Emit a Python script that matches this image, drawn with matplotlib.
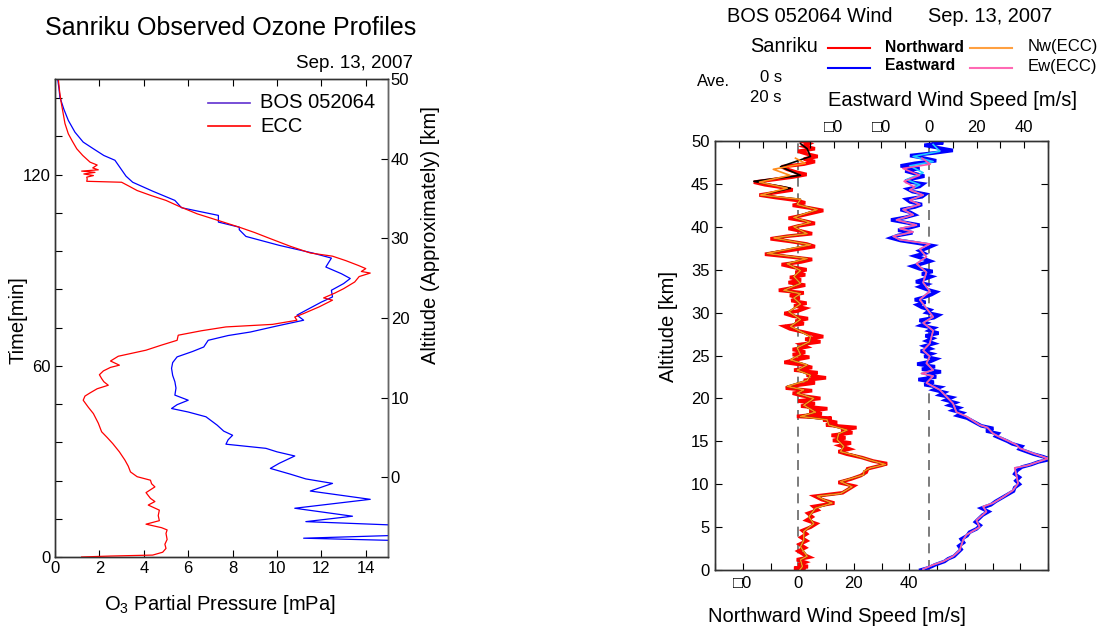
import matplotlib
matplotlib.use('Agg')
import matplotlib.pyplot as plt
from matplotlib.lines import Line2D

plt.rcParams['font.family'] = ['Liberation Sans', 'DejaVu Sans']
plt.rcParams['mathtext.fontset'] = 'custom'
plt.rcParams['mathtext.rm'] = 'Liberation Sans'
plt.rcParams['mathtext.default'] = 'regular'

# ---------------- Left panel data: ozone partial pressure vs time ----------------
bos_time = [3.5, 5.9, 8.2, 11.1, 12.8, 15.3, 18.1, 20.7, 23.1, 24.5, 26.0, 27.8, 29.4, 31.7, 33.0,
            34.1, 35.4, 36.8, 38.2, 39.5, 41.4, 44.0, 45.5, 46.6, 47.8, 49.2, 50.8, 53.0, 55.0,
            57.0, 59.2, 61.0, 62.8, 64.5, 65.9, 68.0, 69.5, 70.6, 72.5, 74.3, 75.9, 77.4, 80.0,
            81.6, 83.7, 85.8, 87.4, 88.9, 91.0, 93.8, 95.4, 97.8, 100.6, 102.7, 103.5, 105.1,
            107.2, 109.6, 111.9, 114.8, 117.6, 119.5, 121.5, 124.5, 126.0, 128.1, 130.2, 133.3,
            137.0, 140.5, 144.3, 147.0, 150.0]
bos_o3 = [25.0, 11.2, 22.0, 11.3, 13.4, 10.8, 14.2, 11.5, 12.5, 11.3, 10.6, 9.7, 10.1, 10.8, 10.0,
          9.5, 7.7, 7.8, 8.0, 7.6, 7.3, 6.8, 6.0, 5.25, 5.5, 6.0, 5.4, 5.45, 5.4,
          5.3, 5.25, 5.3, 5.5, 6.2, 6.7, 6.9, 7.8, 8.8, 10.0, 11.2, 10.9, 11.3, 12.0,
          12.5, 12.45, 13.0, 13.3, 12.9, 12.2, 12.45, 11.6, 10.1, 8.6, 8.3, 8.3, 7.36,
          7.36, 5.7, 5.4, 4.4, 3.5, 3.2, 3.0, 2.7, 2.2, 1.73, 1.27, 0.9,
          0.6, 0.4, 0.22, 0.18, 0.12]

ecc_time = [0.0, 0.3, 0.6, 1.5, 2.7, 4.0, 5.5, 7.4, 8.5, 9.2, 10.3, 11.4, 13.0, 14.7, 16.3, 17.4,
            18.4, 20.2, 22.0, 23.0, 24.1, 25.2, 26.7, 28.5, 30.4, 33.0, 35.6, 37.5, 39.3, 42.0,
            45.0, 47.0, 49.2, 50.5, 51.5, 52.8, 53.9, 55.0, 56.0, 57.2, 58.4, 59.5, 60.2, 61.5,
            63.0, 64.9, 66.5, 68.0, 69.6, 71.0, 72.2, 73.0, 74.3, 75.3, 76.4, 78.5, 80.6, 81.3,
            82.8, 84.2, 86.3, 88.0, 89.1, 89.6, 90.5, 91.5, 93.0, 94.4, 95.4, 97.5, 99.9, 101.8,
            103.5, 105.5, 107.7, 110.0, 111.9, 113.5, 115.0, 116.5, 117.6, 117.9, 118.6, 119.2,
            119.7, 120.2, 120.7, 121.1, 121.5, 122.1, 123.0, 123.9, 126.0, 128.1, 130.5, 132.8,
            136.0, 139.1, 143.0, 146.5, 150.0]
ecc_o3 = [1.2, 2.5, 4.4, 4.85, 5.0, 4.95, 5.05, 5.0, 5.05, 4.8, 4.1, 4.7, 4.65, 4.7, 4.2, 4.5,
          4.3, 4.1, 4.5, 4.35, 4.3, 3.7, 3.4, 3.3, 3.15, 2.9, 2.6, 2.35, 2.1, 1.95,
          1.73, 1.5, 1.27, 1.35, 1.58, 1.9, 2.4, 2.2, 2.1, 2.0, 2.18, 2.5, 2.9, 2.5,
          2.85, 4.1, 4.8, 5.5, 5.55, 6.6, 7.7, 9.8, 10.9, 10.8, 11.2, 11.9, 12.5, 12.1,
          12.6, 13.0, 13.5, 13.7, 14.2, 13.8, 14.0, 13.66, 13.1, 12.5, 11.5, 10.6, 9.7, 9.0,
          8.3, 7.4, 6.4, 5.6, 5.0, 4.3, 3.7, 3.3, 3.0, 1.43, 1.45, 1.43,
          1.73, 1.3, 1.8, 1.2, 1.95, 1.7, 1.9, 1.58, 1.25, 0.98, 0.78, 0.6,
          0.45, 0.37, 0.27, 0.2, 0.15]

o3_xticks = [0, 2, 4, 6, 8, 10, 12, 14]
time_ticks = [0, 12, 24, 36, 48, 60, 72, 84, 96, 108, 120, 132, 144]
time_labels = ['0', '', '', '', '', '60', '', '', '', '', '120', '', '']
alt_ticks_left = [0, 10, 20, 30, 40, 50]

# ---------------- Right panel data: wind profiles vs altitude ----------------
prof_north_alt = [0.0, 0.4, 1.2, 1.6, 2.7, 3.5, 4.5, 5.4, 6.2, 7.2, 7.8, 8.2, 8.6, 8.9, 9.7, 10.3,
                  10.7, 11.1, 11.5, 11.9, 12.3, 12.8, 13.4, 13.8, 14.4, 15.2, 15.9, 16.3, 16.9,
                  17.5, 17.9, 18.4, 19.2, 20.0, 20.6, 21.0, 21.4, 22.1, 22.7, 23.3, 23.9, 24.5,
                  25.1, 25.9, 26.6, 27.2, 28.4, 29.2, 30.1, 31.0, 31.7, 32.2, 32.6, 33.4, 34.2,
                  34.9, 35.7, 36.3, 36.9, 37.9, 38.7, 39.2, 40.0, 40.5, 41.1, 42.0, 42.6, 43.2,
                  43.7, 44.5, 45.3, 46.0, 47.0, 48.2, 49.1, 49.7]
prof_north = [0.5, 1.5, 0.8, 3.2, 0.8, 2.0, 2.0, 5.6, 3.8, 6.2, 12.2, 9.2, 6.8, 15.2, 19.4, 15.2,
              19.4, 23.6, 23.6, 26.0, 31.4, 26.0, 20.0, 15.2, 16.4, 14.0, 14.6, 17.6, 11.0,
              10.4, 0.8, 6.2, 2.0, 5.6, -0.4, 2.0, -4.0, 3.2, 4.4, -0.4, 3.2, -2.8,
              0.8, -0.4, 4.0, 4.4, -2.8, 0.8, -3.4, 0.8, -1.6, 0.8, -5.2, 0.8, -1.6,
              0.8, -4.0, 3.2, -11.2, 4.4, -8.8, 3.2, -1.6, 4.4, -1.6, 6.8, -0.4, 0.8,
              -13.6, -2.8, -16.0, 0.8, -6.4, 4.4, 3.2, 0.8]
# Nw(ECC) above 44 km (follows the profile below)
ecc_north_top_alt = [44.5, 45.2, 46.0, 46.7, 47.4, 48.0]
ecc_north_top = [-4.0, -14.0, -3.0, -9.0, 2.5, -1.0]

raw_north_alt = [0.0, 0.2, 0.4, 0.6, 0.9, 1.2, 1.5, 1.8, 2.2, 2.6, 3.0, 3.4, 3.8, 4.2, 4.6, 5.0, 5.4,
                 5.8, 6.2, 6.6, 7.0, 7.4, 7.8, 8.2, 8.6, 9.0, 9.4, 9.8, 10.2, 10.6, 11.0, 11.4, 11.8,
                 12.2, 12.4, 12.7, 13.1, 13.5, 13.8, 14.1, 14.5, 14.8, 15.1, 15.4, 15.7, 16.0, 16.3,
                 16.6, 16.9, 17.2, 17.5, 17.7, 17.9, 18.2, 18.5, 18.8, 19.1, 19.4, 19.7, 20.0, 20.3,
                 20.6, 20.9, 21.2, 21.5, 21.8, 22.1, 22.4, 22.7, 23.0, 23.3, 23.6, 23.9, 24.2, 24.5,
                 24.8, 25.1, 25.4, 25.7, 26.0, 26.3, 26.6, 26.9, 27.2, 27.5, 27.8, 28.1, 28.4, 28.7,
                 29.0, 29.3, 29.6, 29.9, 30.2, 30.5, 30.8, 31.1, 31.4, 31.7, 32.0, 32.3, 32.6, 32.9,
                 33.2, 33.5, 33.8, 34.1, 34.4, 34.7, 35.0, 35.3, 35.6, 35.9, 36.2, 36.5, 36.8, 37.1,
                 37.4, 37.7, 38.0, 38.3, 38.6, 38.9, 39.2, 39.5, 39.8, 40.1, 40.4, 40.7, 41.0, 41.3,
                 41.6, 41.9, 42.2, 42.5, 42.8, 43.1, 43.4, 43.7, 44.0, 44.3, 44.6, 44.9, 45.2, 45.5,
                 45.8, 46.1, 46.4, 46.7, 47.0, 47.3, 47.6, 47.9, 48.2, 48.5, 48.8, 49.1, 49.4, 49.7,
                 50.0]
raw_north = [2.0, -1.5, 3.5, 0.0, 2.5, -0.5, 4.0, 2.0, 0.0, 2.5, 0.5, 3.0, 1.0, 3.0, 1.5, 4.5, 6.5,
             3.0, 5.0, 3.5, 7.0, 5.5, 13.0, 8.5, 6.0, 16.0, 18.0, 20.0, 14.5, 19.0, 22.5, 24.5, 25.0,
             30.0, 32.0, 27.0, 23.0, 17.5, 14.5, 18.5, 15.0, 19.0, 12.5, 17.0, 12.0, 19.5, 15.5,
             21.0, 10.0, 14.0, 9.0, 12.0, -0.5, 8.5, 4.0, 10.5, 1.0, 6.0, 0.0, 8.0, 1.5,
             -2.0, 5.0, -4.5, -1.0, 6.0, 2.0, 10.0, 3.0, 7.0, -1.5, 5.0, 1.5, -5.0, -1.0,
             4.0, -2.0, 2.5, -2.0, 3.0, 1.0, 8.0, 2.5, 9.0, 5.0, 1.0, -3.0, -5.0, 2.0,
             -1.0, 3.5, -2.0, -5.0, 0.0, 2.5, -1.5, 3.0, -2.5, 0.5, -3.0, 2.0, -7.0, -2.0,
             2.5, -3.5, 1.0, -3.0, 2.5, -1.0, 3.0, -2.0, -6.0, 1.0, 5.0, -3.0, -12.0, -6.0,
             0.0, 6.0, 3.0, -3.0, -10.0, -4.0, 5.0, 1.0, -3.5, 0.0, 6.0, 2.0, -3.5, 1.0,
             5.0, 9.0, 4.0, -2.0, 2.5, -1.0, -8.0, -14.0, -8.0, -2.0, -6.0, -12.0, -16.0, -9.0,
             -2.0, 3.0, -1.0, -4.0, -6.0, 2.0, 6.0, 2.0, 7.0, 3.0, 0.0, 6.0, 2.0, 4.0,
             1.0]

prof_east_alt = [0.1, 0.6, 1.0, 1.6, 2.3, 3.5, 4.1, 5.0, 5.8, 6.8, 7.4, 7.8, 8.5, 9.3, 10.1, 11.1,
                 11.9, 12.2, 13.0, 13.6, 14.2, 14.6, 15.5, 15.9, 16.6, 16.9, 17.9, 18.4, 19.4, 20.2,
                 21.0, 21.4, 21.8, 22.6, 22.9, 23.3, 24.1, 24.9, 25.6, 26.4, 27.9, 28.8, 29.5, 30.5,
                 31.5, 32.5, 33.5, 34.7, 35.7, 36.5, 37.4, 38.0, 38.5, 38.9, 39.4, 39.8, 40.2, 40.8,
                 41.4, 42.0, 42.6, 43.1, 43.7, 44.3, 44.9, 45.5, 46.3, 47.1, 47.6, 48.2, 48.8, 49.6]
prof_east = [-2.5, 1.7, 5.9, 10.1, 12.9, 14.3, 15.7, 21.3, 19.9, 24.1, 22.7, 26.9, 31.1, 35.3, 37.4, 36.7,
             36.0, 41.6, 50.0, 43.7, 38.1, 36.7, 29.7, 26.9, 24.5, 21.3, 15.7, 11.5, 10.1, 7.3,
             4.5, 1.7, -1.1, 1.7, -3.2, 1.7, -1.1, 0.3, -2.5, 0.3, 1.7, -2.5, 1.7, -1.1,
             -3.9, 0.3, -2.5, -1.1, -5.3, -1.1, -3.9, 0.3, -12.3, -15.1, -6.7, -12.3, -5.3, -13.7,
             -6.7, -10.9, -3.9, -8.1, -2.5, -8.1, -3.9, -9.5, -2.5, -8.1, 1.7, -6.7, 4.5, 1.7]
# Ew(ECC) above 44 km (follows the profile below)
ecc_east_top_alt = [44.6, 45.3, 46.0, 46.8, 47.3, 48.0]
ecc_east_top = [-6.0, -10.5, -4.0, -11.0, 0.5, -3.0]

raw_east_alt = [0.0, 0.2, 0.4, 0.6, 0.8, 1.0, 1.3, 1.6, 2.0, 2.4, 2.8, 3.2, 3.6, 4.0, 4.4, 4.8, 5.2,
                5.6, 6.0, 6.4, 6.8, 7.2, 7.6, 8.0, 8.4, 8.8, 9.2, 9.6, 10.0, 10.4, 10.8, 11.2, 11.6,
                12.0, 12.3, 12.6, 12.9, 13.2, 13.5, 13.8, 14.1, 14.4, 14.7, 15.0, 15.3, 15.6, 15.9,
                16.2, 16.5, 16.8, 17.1, 17.4, 17.7, 18.0, 18.3, 18.6, 18.9, 19.2, 19.5, 19.8, 20.1,
                20.4, 20.7, 21.0, 21.3, 21.6, 21.9, 22.2, 22.5, 22.8, 23.1, 23.4, 23.7, 24.0, 24.3,
                24.6, 24.9, 25.2, 25.5, 25.8, 26.1, 26.4, 26.7, 27.0, 27.3, 27.6, 27.9, 28.2, 28.5,
                28.8, 29.1, 29.4, 29.7, 30.0, 30.3, 30.6, 30.9, 31.2, 31.5, 31.8, 32.1, 32.4, 32.7,
                33.0, 33.3, 33.6, 33.9, 34.2, 34.5, 34.8, 35.1, 35.4, 35.7, 36.0, 36.3, 36.6, 36.9,
                37.2, 37.5, 37.8, 38.1, 38.4, 38.7, 39.0, 39.3, 39.6, 39.9, 40.2, 40.5, 40.8, 41.1,
                41.4, 41.7, 42.0, 42.3, 42.6, 42.9, 43.2, 43.5, 43.8, 44.1, 44.4, 44.7, 45.0, 45.3,
                45.6, 45.9, 46.2, 46.5, 46.8, 47.1, 47.4, 47.7, 48.0, 48.3, 48.6, 48.9, 49.2, 49.5,
                49.8, 50.0]
raw_east = [-3.5, -1.0, 1.0, 2.5, 4.5, 6.5, 8.0, 10.5, 12.0, 13.5, 12.5, 14.5, 13.5, 16.0, 17.0, 20.0, 21.5,
            19.5, 21.0, 22.5, 25.0, 22.0, 26.0, 28.0, 30.5, 33.0, 35.5, 36.0, 38.0, 36.5, 38.0, 36.0, 37.0,
            39.0, 43.0, 46.0, 51.0, 48.0, 44.0, 41.0, 38.0, 39.0, 35.0, 33.0, 30.5, 28.0, 29.0,
            24.0, 27.0, 22.0, 20.0, 18.0, 16.0, 12.0, 14.0, 10.0, 12.5, 8.5, 11.0, 7.0, 9.5,
            4.5, 6.5, 2.0, 4.5, -2.0, 2.0, -4.5, 3.0, -1.0, 5.0, -3.0, 2.5, -5.0, 0.5,
            3.0, -2.0, 1.0, -3.5, 0.5, -2.0, 2.0, -1.0, 1.5, -1.5, 4.0, 0.0, 2.0, -3.5,
            -1.0, -4.0, 2.0, 4.0, -1.0, 0.5, -3.0, -5.0, -1.5, -6.0, -2.0, 1.0, 3.0, -1.0,
            -4.0, -1.0, -5.5, -2.0, 1.0, -3.0, 1.5, -4.0, -7.0, -3.0, 0.5, -2.5, -6.0, -2.0,
            -4.0, -1.0, 1.5, -5.0, -12.0, -16.0, -13.0, -7.0, -13.0, -8.0, -4.0, -10.0, -16.0, -10.0,
            -6.0, -8.0, -12.0, -6.0, -3.0, -8.0, -9.5, -3.0, -1.5, -7.0, -9.0, -4.0, -2.5, -10.0,
            -7.0, -2.0, -6.0, -10.0, -4.0, -12.0, -6.0, 3.0, -2.0, -8.0, 2.0, 10.0, 4.0, -2.0,
            6.0, 2.0]

north_ticks = [-30, -20, -10, 0, 10, 20, 30, 40, 50, 60, 70, 80, 90]
north_labels = ['', '\u25a10', '', '0', '', '20', '', '40', '', '', '', '', '']
east_ticks = [-90, -80, -70, -60, -50, -40, -30, -20, -10, 0, 10, 20, 30, 40, 50]
east_labels = ['', '', '', '', '', '\u25a10', '', '\u25a10', '', '0', '', '20', '', '40', '']
alt_ticks_right = [0, 5, 10, 15, 20, 25, 30, 35, 40, 45, 50]

# build ECC profiles (same as 20 s profile below the top segment)
ecc_north_alt = [a for a in prof_north_alt if a < ecc_north_top_alt[0]] + ecc_north_top_alt
ecc_north = [v for a, v in zip(prof_north_alt, prof_north) if a < ecc_north_top_alt[0]] + ecc_north_top
ecc_east_alt = [a for a in prof_east_alt if a < ecc_east_top_alt[0]] + ecc_east_top_alt
ecc_east = [v for a, v in zip(prof_east_alt, prof_east) if a < ecc_east_top_alt[0]] + ecc_east_top

# ---------------- Figure ----------------
W, H = 1101, 628
fig = plt.figure(figsize=(W / 100, H / 100), dpi=100)


def fx(px):
    return px / W


def fy(py):
    return 1 - py / H


TICK_FS = 12
SPINE = '#333333'


def style_axes(ax):
    for s in ax.spines.values():
        s.set_color(SPINE)
        s.set_linewidth(1.0)


# Left panel
ax1 = fig.add_axes([fx(55), fy(557), (388 - 55) / W, (557 - 79) / H])
ax1.plot(bos_o3, bos_time, color='#0000ff', lw=0.9, zorder=3)
ax1.plot(ecc_o3, ecc_time, color='#ff0000', lw=0.9, zorder=4)
ax1.set_xlim(0, 15)
ax1.set_ylim(0, 150)
ax1.set_xticks(o3_xticks)
ax1.set_xticklabels([str(v) for v in o3_xticks])
ax1.set_yticks(time_ticks)
ax1.set_yticklabels(time_labels)
ax1.tick_params(direction='in', length=5, width=0.8, labelsize=TICK_FS, top=True, pad=3)
style_axes(ax1)
ax1r = ax1.twinx()
ax1r.set_ylim(-10, 50)
ax1r.set_yticks(alt_ticks_left)
ax1r.tick_params(direction='in', length=5, width=0.8, labelsize=TICK_FS, pad=2)
style_axes(ax1r)
ax1r.spines['right'].set_color('#666666')

fig.text(fx(231), fy(28), 'Sanriku Observed Ozone Profiles', fontsize=18, ha='center', va='center')
fig.text(fx(413), fy(63), 'Sep. 13, 2007', fontsize=13.5, ha='right', va='center')
fig.text(fx(220), fy(605), 'O$_3$ Partial Pressure [mPa]', fontsize=14.5, ha='center', va='center')
fig.text(fx(18), fy(320), 'Time[min]', fontsize=14.5, ha='center', va='center', rotation=90)
fig.text(fx(431), fy(235), 'Altitude (Approximately) [km]', fontsize=14.5, ha='center', va='center',
         rotation=90)
fig.add_artist(Line2D([fx(208), fx(250)], [fy(103), fy(103)], color='#6030d0', lw=1.2))
fig.add_artist(Line2D([fx(208), fx(250)], [fy(126), fy(126)], color='#ff0000', lw=1.2))
fig.text(fx(260), fy(103), 'BOS 052064', fontsize=14.5, ha='left', va='center')
fig.text(fx(260), fy(126), 'ECC', fontsize=14.5, ha='left', va='center')

# Right panel
ax2 = fig.add_axes([fx(715), fy(570), (1048 - 715) / W, (570 - 141) / H])
ax2.axvline(0, color='#666666', lw=1.2, ls=(0, (6, 4)), zorder=1)
ax2.plot(raw_north, raw_north_alt, color='#ff0000', lw=2.6, zorder=2, solid_joinstyle='miter')
ax2.plot(prof_north, prof_north_alt, color='#000000', lw=1.2, zorder=3)
ax2.plot(ecc_north, ecc_north_alt, color='#ff8c1a', lw=1.2, zorder=4)
ax2.set_xlim(-30, 90)
ax2.set_ylim(0, 50)
ax2.set_xticks(north_ticks)
ax2.set_xticklabels(north_labels)
ax2.set_yticks(alt_ticks_right)
ax2.tick_params(direction='in', length=5, width=0.8, labelsize=TICK_FS, right=True, top=False, pad=4)
style_axes(ax2)

ax2t = ax2.twiny()
ax2t.set_xlim(-90, 50)
ax2t.axvline(0, color='#666666', lw=1.2, ls=(0, (6, 4)), zorder=1)
ax2t.plot(raw_east, raw_east_alt, color='#0000ff', lw=2.6, zorder=2, solid_joinstyle='miter')
ax2t.plot(prof_east, prof_east_alt, color='#22ccff', lw=1.2, zorder=3)
ax2t.plot(ecc_east, ecc_east_alt, color='#ff4fa8', lw=1.2, zorder=4)
ax2t.set_xticks(east_ticks)
ax2t.set_xticklabels(east_labels)
ax2t.tick_params(direction='in', length=5, width=0.8, labelsize=TICK_FS, pad=4)
style_axes(ax2t)

fig.text(fx(727), fy(17), 'BOS 052064 Wind', fontsize=14.4, ha='left', va='center')
fig.text(fx(928), fy(17), 'Sep. 13, 2007', fontsize=14.4, ha='left', va='center')
fig.text(fx(750), fy(47), 'Sanriku', fontsize=14.4, ha='left', va='center')
fig.add_artist(Line2D([fx(828), fx(870)], [fy(48), fy(48)], color='#ff0000', lw=1.5))
fig.add_artist(Line2D([fx(828), fx(870)], [fy(68), fy(68)], color='#0000ff', lw=1.5))
fig.add_artist(Line2D([fx(970), fx(1012)], [fy(48), fy(48)], color='#ffa040', lw=1.5))
fig.add_artist(Line2D([fx(970), fx(1012)], [fy(68), fy(68)], color='#ff69b4', lw=1.5))
fig.text(fx(885), fy(47), 'Northward', fontsize=11.3, fontweight='bold', ha='left', va='center')
fig.text(fx(885), fy(66), 'Eastward', fontsize=11.3, fontweight='bold', ha='left', va='center')
fig.text(fx(1028), fy(47), 'Nw(ECC)', fontsize=12, ha='left', va='center')
fig.text(fx(1028), fy(66), 'Ew(ECC)', fontsize=12, ha='left', va='center')
fig.text(fx(697), fy(81), 'Ave.', fontsize=12, ha='left', va='center')
fig.text(fx(782), fy(77), '0 s', fontsize=12, ha='right', va='center')
fig.text(fx(782), fy(97), '20 s', fontsize=12, ha='right', va='center')
fig.text(fx(828), fy(100), 'Eastward Wind Speed [m/s]', fontsize=14.5, ha='left', va='center')
fig.text(fx(708), fy(617), 'Northward Wind Speed [m/s]', fontsize=14.5, ha='left', va='center')
fig.text(fx(668), fy(326), 'Altitude [km]', fontsize=14.5, ha='center', va='center', rotation=90)

fig.savefig('out.png', dpi=100)
